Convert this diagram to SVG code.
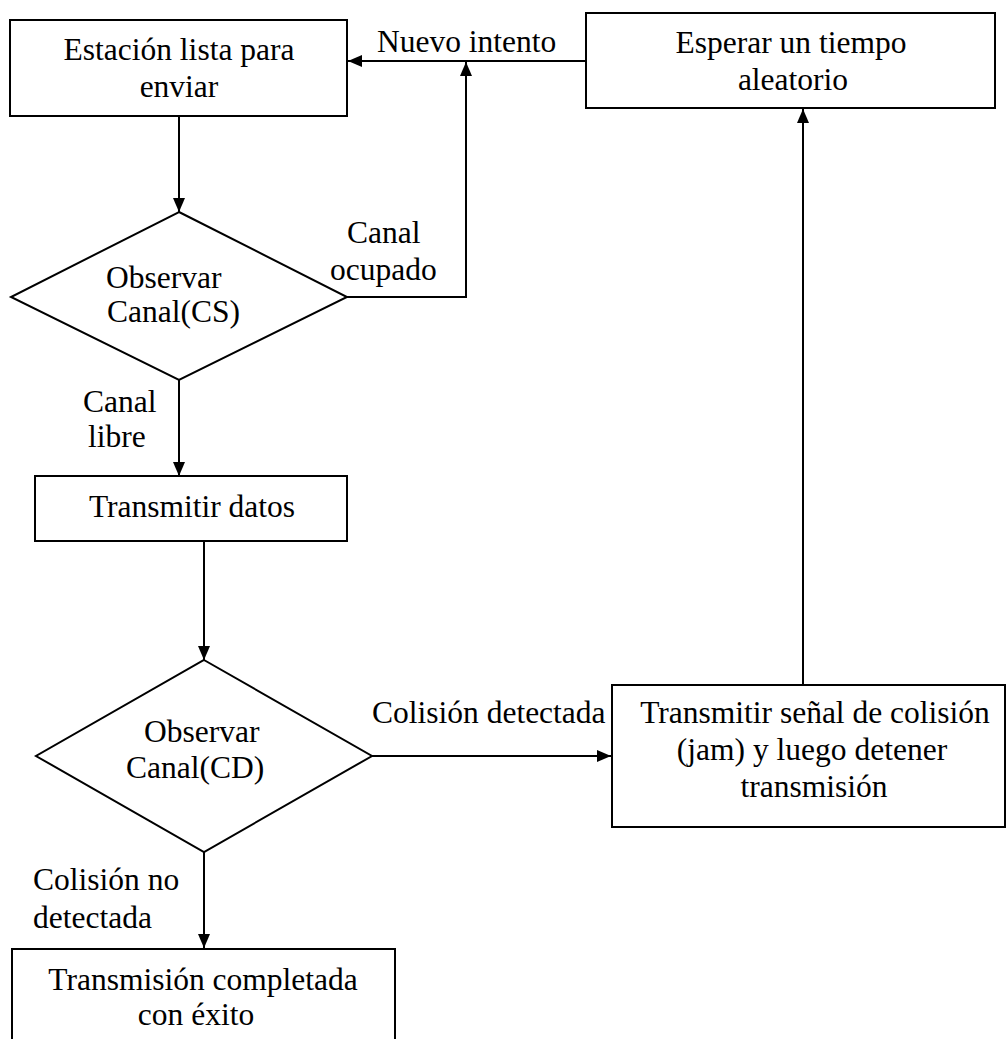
<svg xmlns="http://www.w3.org/2000/svg" width="1007" height="1039" viewBox="0 0 1007 1039">
  <style>
    .box { fill: #fff; stroke: #000; stroke-width: 2; }
    .ln { fill: none; stroke: #000; stroke-width: 2; }
    .t { font-family: "Liberation Serif", "Times New Roman", serif; font-size: 31.5px; fill: #000; text-anchor: middle; }
    .l { font-family: "Liberation Serif", "Times New Roman", serif; font-size: 31.5px; fill: #000; }
  </style>
  <defs>
    <marker id="arr" markerWidth="14" markerHeight="12" refX="14" refY="6" orient="auto" markerUnits="userSpaceOnUse">
      <path d="M0,0 L14,6 L0,12 Z" fill="#000"/>
    </marker>
  </defs>
  <rect width="1007" height="1039" fill="#fff"/>

  <g id="connectors">
    <path class="ln" d="M179,116 V212" marker-end="url(#arr)"/>
    <path class="ln" d="M347,297 H466 V62" marker-end="url(#arr)"/>
    <path class="ln" d="M586,61 H348" marker-end="url(#arr)"/>
    <path class="ln" d="M179,380 V476" marker-end="url(#arr)"/>
    <path class="ln" d="M204,541 V660" marker-end="url(#arr)"/>
    <path class="ln" d="M372,756 H611" marker-end="url(#arr)"/>
    <path class="ln" d="M803,685 V109" marker-end="url(#arr)"/>
    <path class="ln" d="M204,852 V948" marker-end="url(#arr)"/>
    <text class="l" x="377" y="52">Nuevo intento</text>
    <text class="l" x="347" y="243">Canal</text>
    <text class="l" x="330" y="280">ocupado</text>
    <text class="l" x="83" y="412">Canal</text>
    <text class="l" x="88" y="447">libre</text>
    <text class="l" x="372" y="723">Colisión detectada</text>
    <text class="l" x="33" y="890">Colisión no</text>
    <text class="l" x="33" y="928">detectada</text>
  </g>

  <g id="estacion">
    <rect class="box" x="10" y="20" width="337" height="96"/>
    <text class="t" x="179" y="60">Estación lista para</text>
    <text class="t" x="179" y="97">enviar</text>
  </g>

  <g id="esperar">
    <rect class="box" x="586" y="13" width="409" height="95"/>
    <text class="t" x="791" y="53">Esperar un tiempo</text>
    <text class="t" x="793" y="90">aleatorio</text>
  </g>

  <g id="observar-cs">
    <polygon class="box" points="179,212 347,297 179,380 11,297"/>
    <text class="l" x="106" y="288">Observar</text>
    <text class="l" x="107" y="322">Canal(CS)</text>
  </g>

  <g id="transmitir">
    <rect class="box" x="35" y="476" width="312" height="65"/>
    <text class="t" x="192" y="517">Transmitir datos</text>
  </g>

  <g id="observar-cd">
    <polygon class="box" points="204,660 372,756 204,852 36,756"/>
    <text class="l" x="144" y="742">Observar</text>
    <text class="l" x="126" y="778">Canal(CD)</text>
  </g>

  <g id="jam">
    <rect class="box" x="612" y="685" width="393" height="142"/>
    <text class="t" x="815" y="723">Transmitir señal de colisión</text>
    <text class="t" x="812" y="760">(jam) y luego detener</text>
    <text class="t" x="814" y="797">transmisión</text>
  </g>

  <g id="completada">
    <rect class="box" x="12" y="949" width="383" height="100"/>
    <text class="t" x="203" y="990">Transmisión completada</text>
    <text class="t" x="196" y="1025">con éxito</text>
  </g>
</svg>
